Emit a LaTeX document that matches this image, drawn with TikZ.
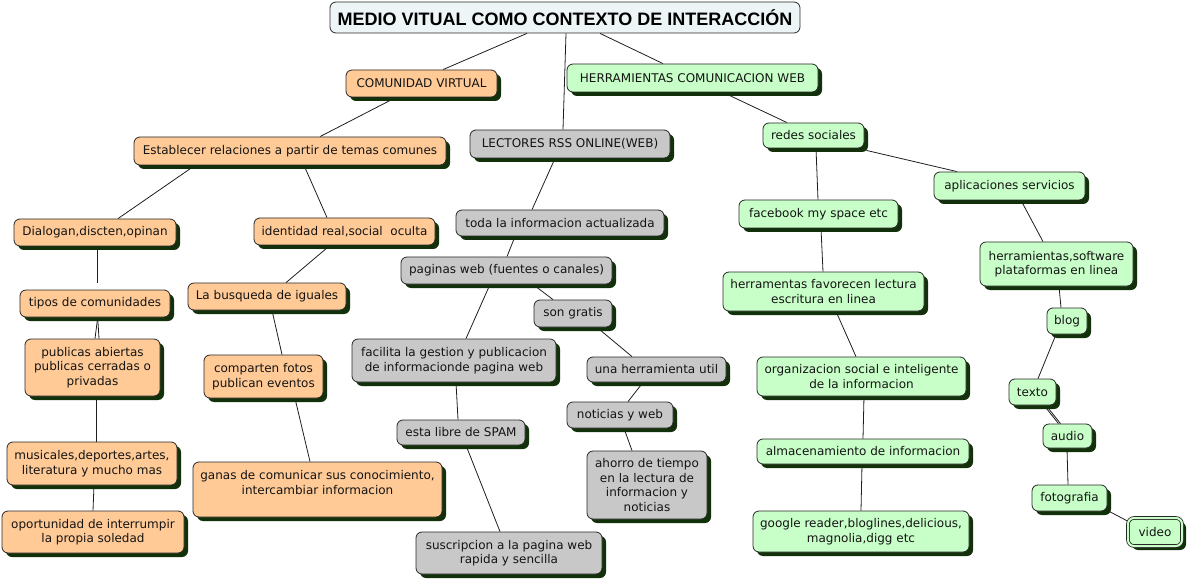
\documentclass[tikz,border=0pt]{standalone}
\usepackage{fontspec}
\setmainfont{DejaVu Sans}
\newfontfamily\titlefont{Liberation Sans}
\usetikzlibrary{shadows,backgrounds}
\definecolor{orangec}{RGB}{255,202,150}
\definecolor{grayc}{RGB}{200,200,200}
\definecolor{greenc}{RGB}{200,255,200}
\definecolor{titlec}{RGB}{238,245,247}
\definecolor{shadowc}{RGB}{18,48,10}
\definecolor{bordc}{RGB}{40,40,40}
\definecolor{linec}{RGB}{30,30,30}
\definecolor{textc}{RGB}{20,20,20}
\newcommand{\cmapfont}{\fontsize{12}{14.5}\selectfont}
\tikzset{
  box/.style={rounded corners=6pt, draw=bordc, line width=0.8pt, inner sep=0pt,
    align=center, font=\cmapfont, text=textc,
    general shadow={fill=shadowc, shadow xshift=4pt, shadow yshift=-4pt}},
  sz/.style 2 args={minimum width=#1pt, minimum height=#2pt},
  obox/.style={box, fill=orangec},
  gbox/.style={box, fill=grayc},
  vbox/.style={box, fill=greenc},
  con/.style={draw=linec, line width=0.8pt},
}
\begin{document}
\begin{tikzpicture}[x=1pt,y=-1pt]
\useasboundingbox (0,0) rectangle (1189,580);
% title
\node[rounded corners=6pt, draw=bordc, line width=0.8pt, fill=titlec, inner sep=0pt,
  minimum width=470pt, minimum height=31pt, font=\titlefont\bfseries\fontsize{18}{20}\selectfont]
  (title) at (565,17.5) {MEDIO VITUAL COMO CONTEXTO DE INTERACCIÓN};
% orange branch
\node[obox, sz={151}{27}] (comunidad) at (421.5,83.5) {COMUNIDAD VIRTUAL};
\node[obox, sz={312}{28}] (establecer) at (290,151) {Establecer relaciones a partir de temas comunes};
\node[obox, sz={162}{27}] (dialogan) at (95,232.5) {Dialogan,discten,opinan};
\node[obox, sz={181}{27}] (identidad) at (344.5,231.5) {identidad real,social~ oculta};
\node[obox, sz={150}{27}] (tipos) at (95,303.5) {tipos de comunidades};
\node[obox, sz={158}{27}] (busqueda) at (267,296.5) {La busqueda de iguales};
\node[obox, sz={135}{57}] (publicas) at (92.5,367.5) {publicas abiertas\\publicas cerradas o\\privadas};
\node[obox, sz={119}{43}] (comparten) at (263.5,376.5) {comparten fotos\\publican eventos};
\node[obox, sz={170}{43}] (musicales) at (92,463.5) {musicales,deportes,artes,\\literatura y mucho mas};
\node[obox, sz={249}{55}] (ganas) at (317.5,489.5) {ganas de comunicar sus conocimiento,\\intercambiar informacion\\\mbox{}};
\node[obox, sz={182}{42}] (oportunidad) at (93,532) {oportunidad de interrumpir\\la propia soledad};
% gray branch
\node[gbox, sz={200}{28}] (lectores) at (570,144) {LECTORES RSS ONLINE(WEB)};
\node[gbox, sz={208}{26}] (toda) at (560,223) {toda la informacion actualizada};
\node[gbox, sz={211}{27}] (paginas) at (506.5,270.5) {paginas web (fuentes o canales)};
\node[gbox, sz={78}{27}] (gratis) at (573,313.5) {son gratis};
\node[gbox, sz={204}{43}] (facilita) at (454,360.5) {facilita la gestion y publicacion\\de informacionde pagina web};
\node[gbox, sz={139}{25}] (util) at (656.5,369.5) {una herramienta util};
\node[gbox, sz={106}{26}] (noticias) at (620,415) {noticias y web};
\node[gbox, sz={128}{25}] (libre) at (461,432.5) {esta libre de SPAM};
\node[gbox, sz={120}{68}] (ahorro) at (647,485) {ahorro de tiempo\\en la lectura de\\informacion y\\noticias};
\node[gbox, sz={186}{42}] (suscripcion) at (509,553) {suscripcion a la pagina web\\rapida y sencilla};
% green branch
\node[vbox, sz={251}{28}] (herr) at (692.5,78) {HERRAMIENTAS COMUNICACION WEB};
\node[vbox, sz={101}{25}] (redes) at (813.5,135.5) {redes sociales};
\node[vbox, sz={151}{28}] (aplic) at (1009.5,186) {aplicaciones servicios};
\node[vbox, sz={159}{28}] (facebook) at (818.5,214) {facebook my space etc};
\node[vbox, sz={153}{44}] (hsoft) at (1056.5,264) {herramientas,software\\plataformas en linea};
\node[vbox, sz={201}{39}] (hfav) at (823.5,291.5) {herramentas favorecen lectura\\escritura en linea};
\node[vbox, sz={40}{26}] (blog) at (1067,321) {blog};
\node[vbox, sz={209}{39}] (organizacion) at (861.5,376.5) {organizacion social e inteligente\\de la informacion};
\node[vbox, sz={47}{26}] (texto) at (1032.5,392) {texto};
\node[vbox, sz={49}{24}] (audio) at (1067.5,436) {audio};
\node[vbox, sz={212}{25}] (almac) at (863,451.5) {almacenamiento de informacion};
\node[vbox, sz={75}{26}] (fotografia) at (1069.5,498) {fotografia};
\node[vbox, sz={216}{41}] (google) at (861,531.5) {google reader,bloglines,delicious,\\magnolia,digg etc};
\node[vbox, sz={54}{28}, double=greenc, double distance=2pt] (video) at (1155,532) {video};
% connectors
\begin{scope}[on background layer]
\draw[con] ([xshift=-38pt]title.south) -- ([xshift=21.5pt]comunidad.north);
\draw[con] ([xshift=1pt]title.south) -- ([xshift=-7pt]lectores.north);
\draw[con] ([xshift=35pt]title.south) -- ([xshift=-29.5pt]herr.north);
\draw[con] ([xshift=-25.5pt]comunidad.south) -- ([xshift=30pt]establecer.north);
\draw[con] ([xshift=-95pt]establecer.south) -- ([xshift=23pt]dialogan.north);
\draw[con] ([xshift=14pt]establecer.south) -- ([xshift=-17.5pt]identidad.north);
\draw[con] ([xshift=2pt]dialogan.south) -- ([xshift=2pt,yshift=7pt]tipos.north);
\draw[con] ([xshift=2.7pt]tipos.south) -- ([xshift=2.5pt]publicas.north);
\draw[con] ([xshift=2.7pt]tipos.south) -- ([xshift=6.5pt]publicas.north);
\draw[con] ([xshift=3.5pt]publicas.south) -- ([xshift=4pt]musicales.north);
\draw[con] ([xshift=2pt]musicales.south) -- (oportunidad.north);
\draw[con] ([xshift=-14.5pt]identidad.south) -- ([xshift=19pt]busqueda.north);
\draw[con] ([xshift=5pt]busqueda.south) -- ([xshift=18.5pt]comparten.north);
\draw[con] ([xshift=31.5pt]comparten.south) -- ([xshift=-7.5pt]ganas.north);
\draw[con] ([xshift=-15pt]lectores.south) -- ([xshift=-28pt]toda.north);
\draw[con] ([xshift=-45pt]toda.south) -- ([xshift=0.5pt]paginas.north);
\draw[con] ([xshift=-16.5pt]paginas.south) -- ([xshift=12pt]facilita.north);
\draw[con] ([xshift=26.5pt]paginas.south) -- ([xshift=-20pt]gratis.north);
\draw[con] ([xshift=24pt]gratis.south) -- ([xshift=-24.5pt]util.north);
\draw[con] ([xshift=-13.5pt]util.south) -- ([xshift=8pt]noticias.north);
\draw[con] ([xshift=4pt]noticias.south) -- ([xshift=-15pt]ahorro.north);
\draw[con] ([xshift=2pt]facilita.south) -- ([xshift=-3pt]libre.north);
\draw[con] ([xshift=5pt]libre.south) -- ([xshift=-9pt]suscripcion.north);
\draw[con] ([xshift=30.5pt]herr.south) -- ([xshift=-26.5pt]redes.north);
\draw[con] ([xshift=2.5pt]redes.south) -- ([xshift=-0.5pt]facebook.north);
\draw[con] ([xshift=2pt,yshift=-2pt]redes.south east) -- ([xshift=-52.5pt]aplic.north);
\draw[con] ([xshift=2.5pt]facebook.south) -- ([xshift=-0.5pt]hfav.north);
\draw[con] ([xshift=12.5pt]hfav.south) -- ([xshift=-5.5pt]organizacion.north);
\draw[con] ([xshift=2.5pt]organizacion.south) -- (almac.north);
\draw[con] ([xshift=-1pt]almac.south) -- (google.north);
\draw[con] ([xshift=11.5pt]aplic.south) -- ([xshift=-13.5pt]hsoft.north);
\draw[con] ([xshift=2.5pt]hsoft.south) -- ([xshift=-6pt]blog.north);
\draw[con] ([xshift=-11pt]blog.south) -- ([xshift=5.5pt]texto.north);
\draw[con] ([xshift=11.5pt]texto.south) -- ([xshift=-9pt]audio.north);
\draw[con] ([xshift=13.5pt]texto.south) -- ([xshift=-7pt]audio.north);
\draw[con] ([xshift=-0.5pt]audio.south) -- ([xshift=-1.5pt]fotografia.north);
\draw[con] ([xshift=-2pt,yshift=2pt]fotografia.south east) -- ([xshift=1pt,yshift=-4pt]video.north west);
\end{scope}
\end{tikzpicture}
\end{document}
